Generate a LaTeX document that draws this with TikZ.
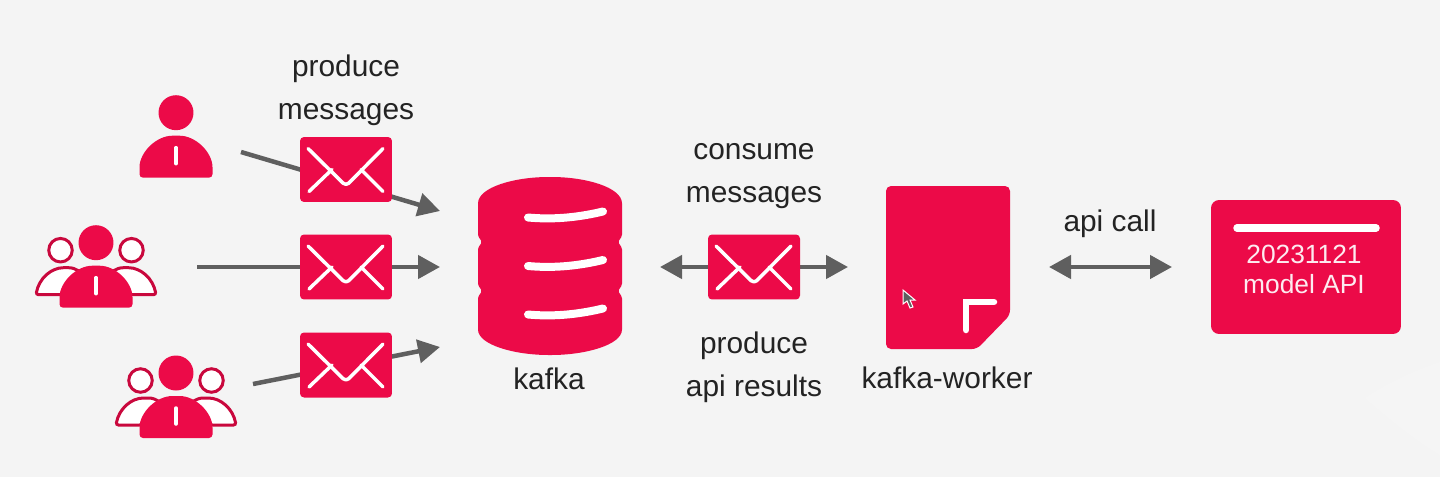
\documentclass[tikz,border=0pt]{standalone}
\usepackage{fontspec}
\setmainfont{Liberation Sans}
\usetikzlibrary{arrows.meta}
\definecolor{bgray}{HTML}{F4F4F4}
\definecolor{kred}{HTML}{EC0A48}
\definecolor{agray}{HTML}{5F5F5F}
\definecolor{tgray}{HTML}{232323}
\tikzset{
  flow/.style = {draw=agray,line width=0.09cm,-{Triangle[length=0.44cm,width=0.46cm]}},
  flowboth/.style = {draw=agray,line width=0.09cm,{Triangle[length=0.44cm,width=0.46cm]}-{Triangle[length=0.44cm,width=0.46cm]}},
  whitebar/.style = {draw=white,line width=0.16cm,line cap=round},
  caption/.style = {text=tgray,align=center,inner sep=0pt,font=\fontsize{17}{24.4}\selectfont},
  mailbox/.style = {
    fill=kred,rounded corners=0.08cm,inner sep=0pt,minimum width=1.84cm,minimum height=1.3cm,
    path picture={
      \begin{scope}[shift={(path picture bounding box.center)}]
        \draw[white,line width=0.07cm,line cap=round,line join=round] (-38,-21) -- (0,16.5) -- (37,-21);
        \draw[white,line width=0.07cm,line cap=round] (-37,22) -- (-14,0) (37,22) -- (15,0);
      \end{scope}
    }
  },
  pics/person/.style = {
    code = {
      \fill[kred] (0,0) circle (0.35cm);
      \fill[kred,rounded corners=0.07cm] (-36.5,65) -- (-36.5,58) .. controls (-36.5,40) and (-20,23) .. (0,23) .. controls (20,23) and (36.5,40) .. (36.5,58) -- (36.5,65) -- cycle;
      \draw[white,line width=0.07cm,line cap=round] (0,35) -- (0,51);
    }
  },
  pics/people/.style = {
    code = {
      \begin{scope}[draw=kred!85!black,fill=white,line width=0.06cm]
        \filldraw (-35.5,7.5) circle (0.235cm) (35.5,7.5) circle (0.235cm);
        \filldraw[rounded corners=0.05cm] (-60,52) .. controls (-57,36) and (-45,25) .. (-30,25) .. controls (-20,25) and (-14,30) .. (-10,36) -- (-34,52) -- cycle;
        \filldraw[rounded corners=0.05cm] (60,52) .. controls (57,36) and (45,25) .. (30,25) .. controls (20,25) and (14,30) .. (10,36) -- (34,52) -- cycle;
      \end{scope}
      \pic {person};
    }
  }
}

\begin{document}
\begin{tikzpicture}[x=0.02cm,y=-0.02cm]

	\useasboundingbox (0,0) rectangle (1440,477);
	\fill[bgray] (0,0) rectangle (1440,477);
	\fill[white,opacity=0.12] (1440,362) .. controls (1410,372) and (1385,385) .. (1365,398) .. controls (1390,420) and (1415,440) .. (1440,455) -- cycle;

	% ends of the connectors
	\coordinate (userout) at (241,152);
	\coordinate (kafkatop) at (440,211);
	\coordinate (groupout) at (197,267);
	\coordinate (kafkamid) at (440,267);
	\coordinate (crowdout) at (253,384);
	\coordinate (kafkalow) at (440,347);
	\coordinate (kafkaright) at (660,267);
	\coordinate (workerleft) at (848,267);
	\coordinate (workerright) at (1049,267);
	\coordinate (apileft) at (1172,267);

	\draw[flow] (userout) -- (kafkatop);
	\draw[flow] (groupout) -- (kafkamid);
	\draw[flow] (crowdout) -- (kafkalow);
	\draw[flowboth] (kafkaright) -- (workerleft);
	\draw[flowboth] (workerright) -- (apileft);

	\pic at (176,112.7) {person};
	\pic at (96,242.7) {people};
	\pic at (176,373) {people};

	\node[mailbox] (mailtop) at (346,169.5) {};
	\node[mailbox] (mailmid) at (346,267) {};
	\node[mailbox] (maillow) at (346,365) {};
	\node[mailbox] (mailback) at (754,267) {};

	%kafka drum
	\fill[kred,rounded corners=0.03cm] (478,205) .. controls (478,187) and (515,177) .. (550,177) .. controls (585,177) and (622,187) .. (622,205)
		-- (622,236) -- (618,242) -- (622,248) -- (622,285) -- (618,291) -- (622,297) -- (622,328)
		.. controls (622,345) and (585,355) .. (550,355) .. controls (515,355) and (478,345) .. (478,328)
		-- (478,297) -- (482,291) -- (478,285) -- (478,248) -- (482,242) -- (478,236) -- cycle;
	\foreach \dy in {0,48.5,97}
		\draw[whitebar] (528,217.5+\dy) .. controls (555,220+\dy) and (580,217+\dy) .. (603,211.5+\dy);

	%worker page with folded corner
	\fill[kred,rounded corners=0.1cm] (886,186) -- (1010,186) -- (1010,315) -- (977,349) -- (886,349) -- cycle;
	\draw[white,line width=0.13cm,line cap=round,line join=miter] (966,330) -- (966,302) -- (994,302);
	%mouse pointer
	\filldraw[fill=agray,draw=white,line width=0.02cm] (903,290) -- (903,304) -- (907,301) -- (910,308) -- (913,307) -- (910,300) -- (915,300) -- cycle;

	\node[fill=kred,rounded corners=0.16cm,minimum width=3.8cm,minimum height=2.68cm] (modelbox) at (1306,267) {};
	\draw[whitebar,line width=0.15cm] (1237,228) -- (1376,228);
	\node[caption,text=white!92!kred,font=\fontsize{15}{15}\selectfont,anchor=base] (apiname) at (1304,263) {20231121};
	\node[caption,text=white!92!kred,font=\fontsize{15}{15}\selectfont,anchor=base] (apitext) at (1304,293) {model API};

	\node[caption] (producelabel) at (346,90) {produce\\messages};
	\node[caption] (consumelabel) at (754,176) {consume\\messages};
	\node[caption] (resultlabel) at (754,367.5) {produce\\api results};
	\node[caption,anchor=base] (kafkalabel) at (549,389) {kafka};
	\node[caption,anchor=base] (workerlabel) at (947,388) {kafka-worker};
	\node[caption,anchor=base] (calllabel) at (1110,231) {api call};

\end{tikzpicture}
\end{document}
